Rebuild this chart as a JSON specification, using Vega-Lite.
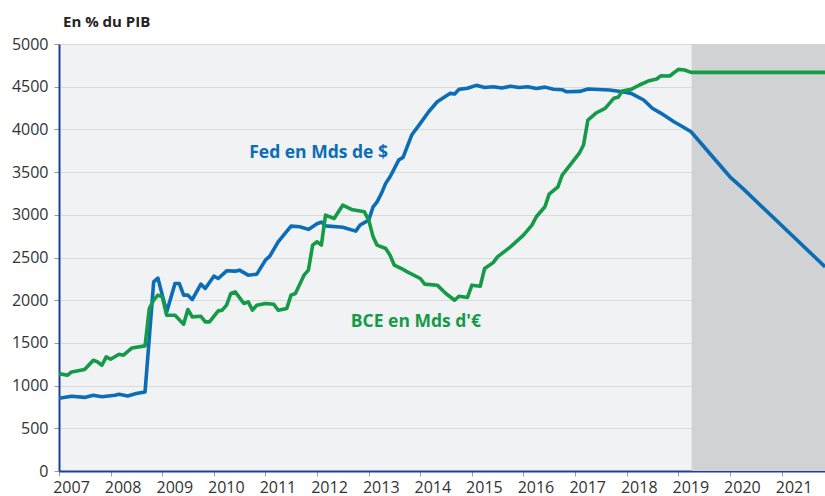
{
  "$schema": "https://vega.github.io/schema/vega-lite/v6.json",
  "width": 766,
  "height": 427,
  "autosize": "none",
  "padding": {"left": 59, "top": 44, "right": 0, "bottom": 25},
  "background": "white",
  "config": {
    "font": "Open Sans",
    "view": {"fill": "#f1f2f4", "stroke": null}
  },
  "title": {
    "text": "En % du PIB",
    "anchor": "start",
    "frame": "group",
    "dx": 4,
    "offset": 6,
    "fontSize": 15,
    "fontWeight": "bold",
    "color": "#222222",
    "font": "Open Sans"
  },
  "datasets": {
    "series": [
      {"date": "2007-01-01", "value": 852, "series": "Fed"},
      {"date": "2007-04-01", "value": 875, "series": "Fed"},
      {"date": "2007-07-01", "value": 862, "series": "Fed"},
      {"date": "2007-09-01", "value": 887, "series": "Fed"},
      {"date": "2007-11-01", "value": 870, "series": "Fed"},
      {"date": "2008-02-01", "value": 887, "series": "Fed"},
      {"date": "2008-03-01", "value": 899, "series": "Fed"},
      {"date": "2008-05-01", "value": 879, "series": "Fed"},
      {"date": "2008-07-01", "value": 907, "series": "Fed"},
      {"date": "2008-09-01", "value": 926, "series": "Fed"},
      {"date": "2008-11-01", "value": 2215, "series": "Fed"},
      {"date": "2008-12-01", "value": 2258, "series": "Fed"},
      {"date": "2009-02-01", "value": 1863, "series": "Fed"},
      {"date": "2009-04-01", "value": 2196, "series": "Fed"},
      {"date": "2009-05-01", "value": 2196, "series": "Fed"},
      {"date": "2009-06-01", "value": 2059, "series": "Fed"},
      {"date": "2009-07-01", "value": 2059, "series": "Fed"},
      {"date": "2009-08-01", "value": 2008, "series": "Fed"},
      {"date": "2009-10-01", "value": 2188, "series": "Fed"},
      {"date": "2009-11-01", "value": 2137, "series": "Fed"},
      {"date": "2010-01-01", "value": 2281, "series": "Fed"},
      {"date": "2010-02-01", "value": 2254, "series": "Fed"},
      {"date": "2010-04-01", "value": 2344, "series": "Fed"},
      {"date": "2010-06-01", "value": 2340, "series": "Fed"},
      {"date": "2010-07-01", "value": 2352, "series": "Fed"},
      {"date": "2010-09-01", "value": 2293, "series": "Fed"},
      {"date": "2010-11-01", "value": 2305, "series": "Fed"},
      {"date": "2011-01-01", "value": 2469, "series": "Fed"},
      {"date": "2011-02-01", "value": 2516, "series": "Fed"},
      {"date": "2011-04-01", "value": 2684, "series": "Fed"},
      {"date": "2011-07-01", "value": 2867, "series": "Fed"},
      {"date": "2011-09-01", "value": 2860, "series": "Fed"},
      {"date": "2011-11-01", "value": 2829, "series": "Fed"},
      {"date": "2012-01-01", "value": 2895, "series": "Fed"},
      {"date": "2012-02-01", "value": 2915, "series": "Fed"},
      {"date": "2012-03-01", "value": 2870, "series": "Fed"},
      {"date": "2012-07-01", "value": 2855, "series": "Fed"},
      {"date": "2012-10-01", "value": 2809, "series": "Fed"},
      {"date": "2012-11-01", "value": 2880, "series": "Fed"},
      {"date": "2013-01-01", "value": 2938, "series": "Fed"},
      {"date": "2013-02-01", "value": 3094, "series": "Fed"},
      {"date": "2013-03-01", "value": 3152, "series": "Fed"},
      {"date": "2013-04-01", "value": 3251, "series": "Fed"},
      {"date": "2013-05-01", "value": 3368, "series": "Fed"},
      {"date": "2013-06-01", "value": 3445, "series": "Fed"},
      {"date": "2013-08-01", "value": 3641, "series": "Fed"},
      {"date": "2013-09-01", "value": 3672, "series": "Fed"},
      {"date": "2013-11-01", "value": 3934, "series": "Fed"},
      {"date": "2014-01-01", "value": 4071, "series": "Fed"},
      {"date": "2014-03-01", "value": 4207, "series": "Fed"},
      {"date": "2014-05-01", "value": 4324, "series": "Fed"},
      {"date": "2014-08-01", "value": 4422, "series": "Fed"},
      {"date": "2014-09-01", "value": 4414, "series": "Fed"},
      {"date": "2014-10-01", "value": 4469, "series": "Fed"},
      {"date": "2014-12-01", "value": 4481, "series": "Fed"},
      {"date": "2015-02-01", "value": 4516, "series": "Fed"},
      {"date": "2015-04-01", "value": 4490, "series": "Fed"},
      {"date": "2015-06-01", "value": 4500, "series": "Fed"},
      {"date": "2015-08-01", "value": 4485, "series": "Fed"},
      {"date": "2015-10-01", "value": 4505, "series": "Fed"},
      {"date": "2015-12-01", "value": 4490, "series": "Fed"},
      {"date": "2016-02-01", "value": 4500, "series": "Fed"},
      {"date": "2016-04-01", "value": 4480, "series": "Fed"},
      {"date": "2016-06-01", "value": 4495, "series": "Fed"},
      {"date": "2016-08-01", "value": 4470, "series": "Fed"},
      {"date": "2016-10-01", "value": 4465, "series": "Fed"},
      {"date": "2016-11-01", "value": 4440, "series": "Fed"},
      {"date": "2017-02-01", "value": 4445, "series": "Fed"},
      {"date": "2017-04-01", "value": 4473, "series": "Fed"},
      {"date": "2017-09-01", "value": 4461, "series": "Fed"},
      {"date": "2017-12-01", "value": 4441, "series": "Fed"},
      {"date": "2018-02-01", "value": 4422, "series": "Fed"},
      {"date": "2018-05-01", "value": 4344, "series": "Fed"},
      {"date": "2018-07-01", "value": 4247, "series": "Fed"},
      {"date": "2018-09-01", "value": 4188, "series": "Fed"},
      {"date": "2018-12-01", "value": 4090, "series": "Fed"},
      {"date": "2019-02-01", "value": 4031, "series": "Fed"},
      {"date": "2019-04-01", "value": 3972, "series": "Fed"},
      {"date": "2020-01-01", "value": 3445, "series": "Fed"},
      {"date": "2020-04-01", "value": 3309, "series": "Fed"},
      {"date": "2021-11-05", "value": 2390, "series": "Fed"},

      {"date": "2007-01-01", "value": 1141, "series": "BCE"},
      {"date": "2007-03-01", "value": 1121, "series": "BCE"},
      {"date": "2007-04-01", "value": 1160, "series": "BCE"},
      {"date": "2007-07-01", "value": 1188, "series": "BCE"},
      {"date": "2007-09-01", "value": 1297, "series": "BCE"},
      {"date": "2007-10-01", "value": 1277, "series": "BCE"},
      {"date": "2007-11-01", "value": 1238, "series": "BCE"},
      {"date": "2007-12-01", "value": 1336, "series": "BCE"},
      {"date": "2008-01-01", "value": 1309, "series": "BCE"},
      {"date": "2008-03-01", "value": 1367, "series": "BCE"},
      {"date": "2008-04-01", "value": 1356, "series": "BCE"},
      {"date": "2008-06-01", "value": 1441, "series": "BCE"},
      {"date": "2008-09-01", "value": 1465, "series": "BCE"},
      {"date": "2008-10-01", "value": 1903, "series": "BCE"},
      {"date": "2008-11-01", "value": 2000, "series": "BCE"},
      {"date": "2008-12-01", "value": 2059, "series": "BCE"},
      {"date": "2009-01-01", "value": 2039, "series": "BCE"},
      {"date": "2009-02-01", "value": 1824, "series": "BCE"},
      {"date": "2009-04-01", "value": 1824, "series": "BCE"},
      {"date": "2009-06-01", "value": 1719, "series": "BCE"},
      {"date": "2009-07-01", "value": 1891, "series": "BCE"},
      {"date": "2009-08-01", "value": 1805, "series": "BCE"},
      {"date": "2009-10-01", "value": 1812, "series": "BCE"},
      {"date": "2009-11-01", "value": 1746, "series": "BCE"},
      {"date": "2009-12-01", "value": 1746, "series": "BCE"},
      {"date": "2010-02-01", "value": 1875, "series": "BCE"},
      {"date": "2010-03-01", "value": 1883, "series": "BCE"},
      {"date": "2010-04-01", "value": 1942, "series": "BCE"},
      {"date": "2010-05-01", "value": 2079, "series": "BCE"},
      {"date": "2010-06-01", "value": 2098, "series": "BCE"},
      {"date": "2010-08-01", "value": 1962, "series": "BCE"},
      {"date": "2010-09-01", "value": 1980, "series": "BCE"},
      {"date": "2010-10-01", "value": 1883, "series": "BCE"},
      {"date": "2010-11-01", "value": 1942, "series": "BCE"},
      {"date": "2011-01-01", "value": 1962, "series": "BCE"},
      {"date": "2011-03-01", "value": 1953, "series": "BCE"},
      {"date": "2011-04-01", "value": 1883, "series": "BCE"},
      {"date": "2011-06-01", "value": 1903, "series": "BCE"},
      {"date": "2011-07-01", "value": 2059, "series": "BCE"},
      {"date": "2011-08-01", "value": 2079, "series": "BCE"},
      {"date": "2011-10-01", "value": 2293, "series": "BCE"},
      {"date": "2011-11-01", "value": 2352, "series": "BCE"},
      {"date": "2011-12-01", "value": 2645, "series": "BCE"},
      {"date": "2012-01-01", "value": 2684, "series": "BCE"},
      {"date": "2012-02-01", "value": 2645, "series": "BCE"},
      {"date": "2012-03-01", "value": 2996, "series": "BCE"},
      {"date": "2012-05-01", "value": 2957, "series": "BCE"},
      {"date": "2012-07-01", "value": 3113, "series": "BCE"},
      {"date": "2012-09-01", "value": 3063, "series": "BCE"},
      {"date": "2012-12-01", "value": 3035, "series": "BCE"},
      {"date": "2013-01-01", "value": 2938, "series": "BCE"},
      {"date": "2013-02-01", "value": 2742, "series": "BCE"},
      {"date": "2013-03-01", "value": 2645, "series": "BCE"},
      {"date": "2013-05-01", "value": 2606, "series": "BCE"},
      {"date": "2013-06-01", "value": 2527, "series": "BCE"},
      {"date": "2013-07-01", "value": 2410, "series": "BCE"},
      {"date": "2013-09-01", "value": 2360, "series": "BCE"},
      {"date": "2013-10-01", "value": 2332, "series": "BCE"},
      {"date": "2014-01-01", "value": 2254, "series": "BCE"},
      {"date": "2014-02-01", "value": 2188, "series": "BCE"},
      {"date": "2014-05-01", "value": 2176, "series": "BCE"},
      {"date": "2014-07-01", "value": 2079, "series": "BCE"},
      {"date": "2014-09-01", "value": 2000, "series": "BCE"},
      {"date": "2014-10-01", "value": 2047, "series": "BCE"},
      {"date": "2014-12-01", "value": 2032, "series": "BCE"},
      {"date": "2015-01-01", "value": 2176, "series": "BCE"},
      {"date": "2015-03-01", "value": 2164, "series": "BCE"},
      {"date": "2015-04-01", "value": 2371, "series": "BCE"},
      {"date": "2015-06-01", "value": 2440, "series": "BCE"},
      {"date": "2015-07-01", "value": 2508, "series": "BCE"},
      {"date": "2015-10-01", "value": 2625, "series": "BCE"},
      {"date": "2016-01-01", "value": 2762, "series": "BCE"},
      {"date": "2016-03-01", "value": 2879, "series": "BCE"},
      {"date": "2016-04-01", "value": 2977, "series": "BCE"},
      {"date": "2016-06-01", "value": 3094, "series": "BCE"},
      {"date": "2016-07-01", "value": 3242, "series": "BCE"},
      {"date": "2016-09-01", "value": 3328, "series": "BCE"},
      {"date": "2016-10-01", "value": 3465, "series": "BCE"},
      {"date": "2016-12-01", "value": 3594, "series": "BCE"},
      {"date": "2017-02-01", "value": 3726, "series": "BCE"},
      {"date": "2017-03-01", "value": 3817, "series": "BCE"},
      {"date": "2017-04-01", "value": 4110, "series": "BCE"},
      {"date": "2017-06-01", "value": 4195, "series": "BCE"},
      {"date": "2017-08-01", "value": 4247, "series": "BCE"},
      {"date": "2017-10-01", "value": 4364, "series": "BCE"},
      {"date": "2017-11-01", "value": 4376, "series": "BCE"},
      {"date": "2017-12-01", "value": 4449, "series": "BCE"},
      {"date": "2018-02-01", "value": 4469, "series": "BCE"},
      {"date": "2018-04-01", "value": 4520, "series": "BCE"},
      {"date": "2018-06-01", "value": 4566, "series": "BCE"},
      {"date": "2018-08-01", "value": 4590, "series": "BCE"},
      {"date": "2018-09-01", "value": 4629, "series": "BCE"},
      {"date": "2018-11-01", "value": 4625, "series": "BCE"},
      {"date": "2019-01-01", "value": 4703, "series": "BCE"},
      {"date": "2019-02-15", "value": 4695, "series": "BCE"},
      {"date": "2019-04-01", "value": 4668, "series": "BCE"},
      {"date": "2021-11-05", "value": 4668, "series": "BCE"}
    ],
    "shade": [
      {"start": "2019-04-05", "end": "2021-11-05"}
    ],
    "labels": [
      {"date": "2012-01-12", "value": 3726, "text": "Fed en Mds de $", "series": "Fed"},
      {"date": "2013-12-01", "value": 1746, "text": "BCE en Mds d'€", "series": "BCE"}
    ]
  },
  "layer": [
    {
      "data": {"name": "shade"},
      "mark": {"type": "rect", "color": "#d1d2d4"},
      "encoding": {
        "x": {"field": "start", "type": "temporal", "scale": {"domain": ["2007-01-01", "2021-11-04"]}},
        "x2": {"field": "end"}
      }
    },
    {
      "data": {"name": "series"},
      "mark": {"type": "line", "strokeWidth": 3.6, "strokeJoin": "round", "clip": true},
      "encoding": {
        "x": {
          "field": "date",
          "type": "temporal",
          "scale": {"domain": ["2007-01-01", "2021-11-04"]},
          "axis": {
            "title": null,
            "format": "%Y",
            "tickCount": {"interval": "year", "step": 1},
            "grid": false,
            "domainColor": "#1f3e95",
            "domainWidth": 2,
            "tickColor": "#9a9a9a",
            "tickSize": 5,
            "labelOffset": 12,
            "labelPadding": 3,
            "labelFontSize": 16,
            "labelColor": "#333333",
            "labelFlush": false,
            "labelOverlap": false
          }
        },
        "y": {
          "field": "value",
          "type": "quantitative",
          "scale": {"domain": [0, 5000], "nice": false},
          "axis": {
            "title": null,
            "format": "d",
            "values": [0, 500, 1000, 1500, 2000, 2500, 3000, 3500, 4000, 4500, 5000],
            "gridColor": "#d9dadc",
            "gridWidth": 1,
            "domainColor": "#1f3e95",
            "domainWidth": 2,
            "tickColor": "#9a9a9a",
            "tickSize": 5,
            "labelPadding": 6,
            "labelFontSize": 16,
            "labelColor": "#333333"
          }
        },
        "color": {
          "field": "series",
          "type": "nominal",
          "scale": {"domain": ["Fed", "BCE"], "range": ["#0a6db5", "#159a48"]},
          "legend": null
        }
      }
    },
    {
      "data": {"name": "labels"},
      "mark": {"type": "text", "fontSize": 17.5, "fontWeight": "bold", "align": "center", "baseline": "middle"},
      "encoding": {
        "x": {"field": "date", "type": "temporal"},
        "y": {"field": "value", "type": "quantitative"},
        "text": {"field": "text"},
        "color": {"field": "series", "type": "nominal", "legend": null}
      }
    }
  ]
}
